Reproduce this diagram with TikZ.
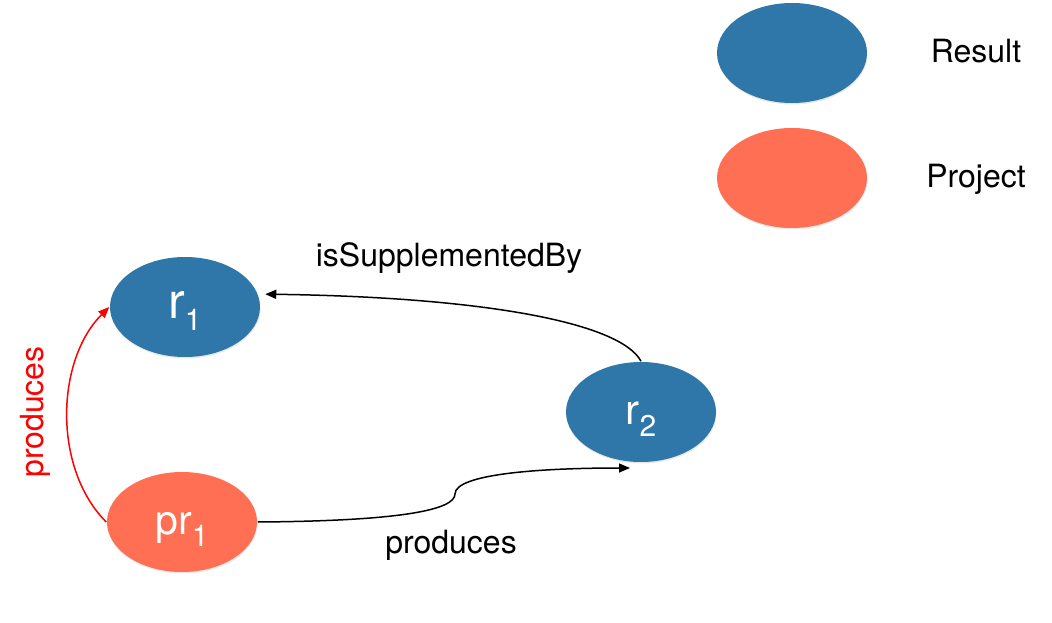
\documentclass[tikz,border=0pt]{standalone}
\usepackage{fontspec}
\setmainfont{TeX Gyre Heros}
\usepackage{xcolor}
\usepackage{tikz}
\usetikzlibrary{shapes.geometric,arrows.meta,shadows}

\definecolor{resultblue}{RGB}{47,119,168}
\definecolor{projectorange}{RGB}{255,111,83}
\newcommand{\subidx}[1]{\raisebox{-12pt}{\fontsize{30}{30}\selectfont #1}}

\begin{document}
\begin{tikzpicture}[x=1pt,y=1pt,>={Triangle[length=11pt,width=9pt]},line width=1.5pt]
      % Definición de estilos
      \tikzstyle{entidad}=[ellipse, minimum width=150pt, minimum height=100pt, inner sep=0pt,
        text=white, text height=24pt, text depth=0pt,
        drop shadow={opacity=0.18, shadow xshift=0.5pt, shadow yshift=-1.5pt}]
      \tikzstyle{resultado}=[entidad, fill=resultblue]
      \tikzstyle{proyecto}=[entidad, fill=projectorange]
      \tikzstyle{etiqueta}=[font=\fontsize{32}{38}\selectfont, anchor=base, inner sep=0pt]

      \useasboundingbox (0,0) rectangle (1052,622);

      % Leyenda
      \node[resultado] (leyres) at (792,569) {};
      \node[proyecto] (leyproy) at (792,444) {};
      \node[etiqueta] (txtres) at (976,559) {Result};
      \node[etiqueta] (txtproy) at (976,434) {Project};

      % Entidades
      \node[resultado, font=\fontsize{50}{50}\selectfont] (r1) at (185,315) {r\subidx{1}};
      \node[resultado, font=\fontsize{42}{42}\selectfont] (r2) at (641,210) {r\subidx{2}};
      \node[proyecto, font=\fontsize{41}{41}\selectfont] (pr1) at (182,100) {pr\subidx{1}};
      \coordinate (r2in) at (630,154);

      % Conexiones
      \draw[->, shorten >=7pt] (r2.north) .. controls (620,300) and (480,325) .. (r1.10);
      \draw[->] (pr1.east) .. controls (400,101) and (455,112) .. (455,128)
                .. controls (455,148) and (540,154) .. (r2in);
      \draw[->, red] (pr1.west) to[out=135, in=225, looseness=0.9] (r1.west);

      % Etiquetas de relación
      \node[etiqueta] (lblsupp) at (449,355) {isSupplementedBy};
      \node[etiqueta] (lblprod) at (451,69) {produces};
      \node[etiqueta, red, rotate=90] (lblprodrojo) at (43,210) {produces};
    \end{tikzpicture}
\end{document}
